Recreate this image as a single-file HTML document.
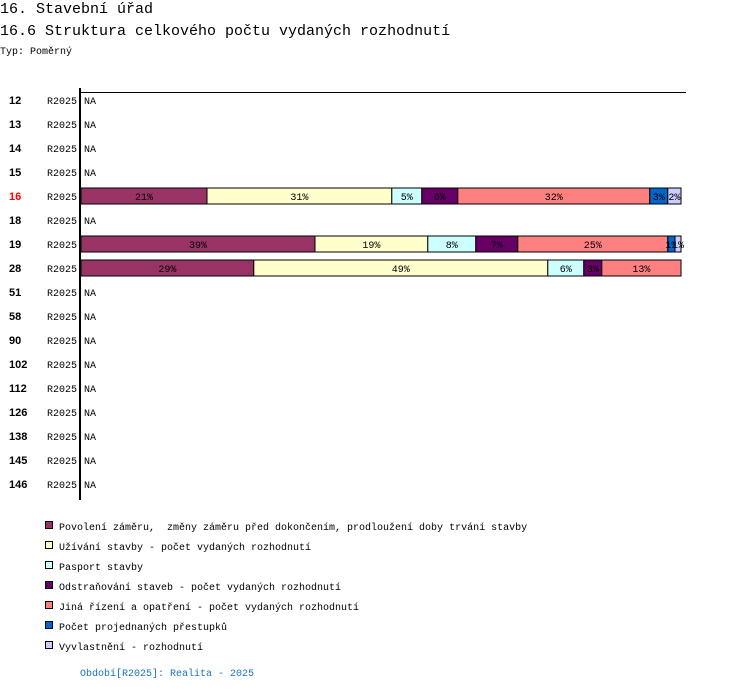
<!DOCTYPE html>
<html><head><meta charset="utf-8"><style>
body{margin:0;background:#fff;width:750px;height:690px;overflow:hidden}
svg text{font-family:"Liberation Mono",monospace;white-space:pre}
</style></head><body>
<svg width="750" height="690" viewBox="0 0 750 690">
<text x="0" y="13" font-size="15">16. Stavební úřad</text>
<text x="0" y="35" font-size="15">16.6 Struktura celkového počtu vydaných rozhodnutí</text>
<text x="0" y="54" font-size="10">Typ: Poměrný</text>
<line x1="80" y1="92.5" x2="686" y2="92.5" stroke="#000" stroke-width="1"/>
<line x1="80" y1="88" x2="80" y2="500" stroke="#000" stroke-width="2"/>
<g id="rows"></g>
<g id="legend"></g>
<text x="80" y="676" font-size="10" fill="#1a73c0">Období[R2025]: Realita - 2025</text>
</svg>
<script>
const categories = ["12","13","14","15","16","18","19","28","51","58","90","102","112","126","138","145","146"];
const highlighted = "16";
const seriesNames = ["Povolení záměru,  změny záměru před dokončením, prodloužení doby trvání stavby","Užívání stavby - počet vydaných rozhodnutí","Pasport stavby","Odstraňování staveb - počet vydaných rozhodnutí","Jiná řízení a opatření - počet vydaných rozhodnutí","Počet projednaných přestupků","Vyvlastnění - rozhodnutí"];
const colors = ["#993366","#ffffcc","#ccffff","#660066","#ff8080","#0066cc","#ccccff"];
const values16 = [21,30.8,5,6,32,3,2.2];
const values19 = [39,18.8,8,7,25,1.2,1];
const values28 = [28.8,49,6,3,13.2,0,0];
const labels16 = ["21%","31%","5%","6%","32%","3%","2%"];
const labels19 = ["39%","19%","8%","7%","25%","1%","1%"];
const labels28 = ["29%","49%","6%","3%","13%","",""];
const dataMap = {"16":[values16,labels16],"19":[values19,labels19],"28":[values28,labels28]};
const NS="http://www.w3.org/2000/svg";
const x0=81, W=600, y0=100, step=24, bh=16;
const xs=v=>v/100*W;
function mk(t,a,p){const e=document.createElementNS(NS,t);for(const k in a)e.setAttribute(k,a[k]);p.appendChild(e);return e;}
const rows=document.getElementById('rows');
categories.forEach((c,i)=>{
  const yc=y0+i*step;
  const t=mk('text',{x:9,y:yc+4,'font-size':11,'font-weight':'bold',fill:c===highlighted?'#ff0000':'#000'},rows);
  t.style.fontFamily='"Liberation Sans",sans-serif';
  t.textContent=c;
  
  
  const p=mk('text',{x:47,y:yc+4,'font-size':10},rows);
  p.textContent='R2025';
  
  
  const d=dataMap[c];
  if(!d){
    const n=mk('text',{x:84,y:yc+4,'font-size':10},rows);
    n.textContent='NA';
    
    
    return;
  }
  const total=d[0].reduce((a,b)=>a+b,0);
  let acc=0;
  d[0].forEach((v,j)=>{
    if(v<=0)return;
    const x=x0+xs(acc/total*100), w=xs(v/total*100);
    const r=mk('rect',{x:x,y:yc-8,width:w,height:bh,fill:colors[j],stroke:'#000','stroke-width':1},rows);
    
    
    const l=mk('text',{x:x+w/2,y:yc+4,'font-size':10,'text-anchor':'middle'},rows);
    l.textContent=d[1][j];
    
    
    acc+=v;
  });
});
const lg=document.getElementById('legend');
seriesNames.forEach((s,j)=>{
  const y=526+j*20;
  const r=mk('rect',{x:45.5,y:y-4.5,width:7,height:7,fill:colors[j],stroke:'#000','stroke-width':1},lg);
  
  
  const t=mk('text',{x:59,y:y+4,'font-size':10},lg);
  t.textContent=s;
  
  
});
</script>
</body></html>
